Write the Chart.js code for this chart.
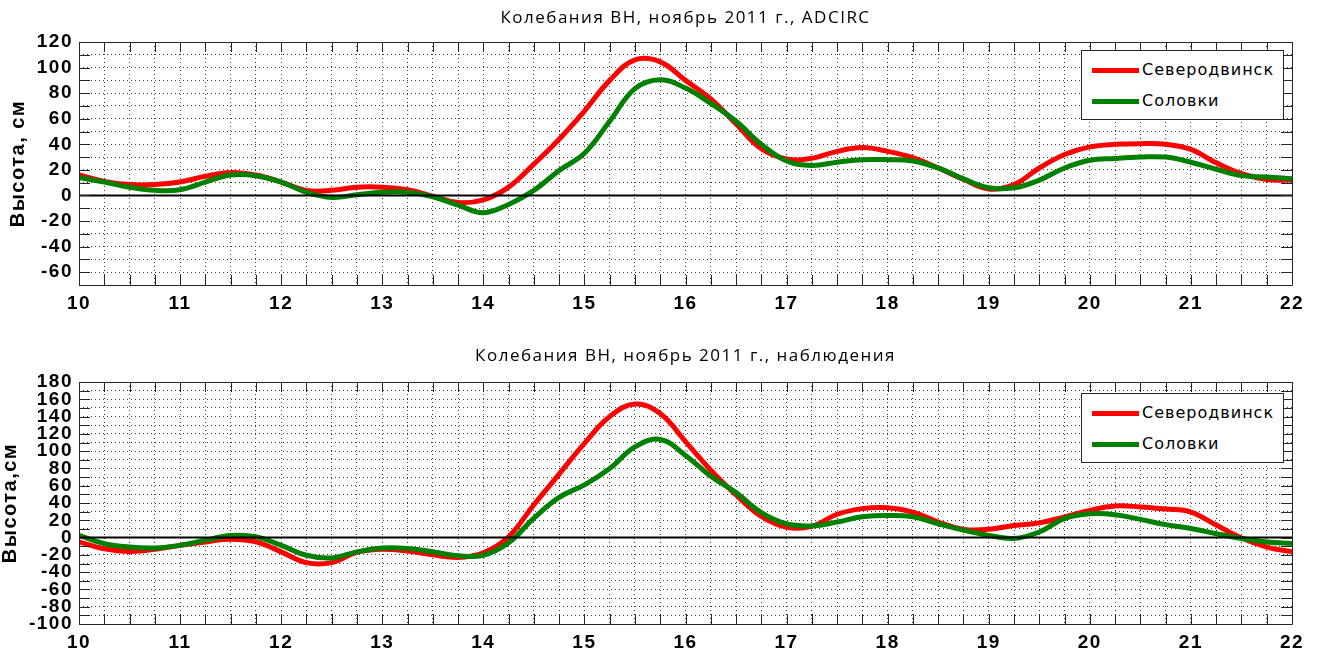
<!DOCTYPE html>
<html>
<head>
<meta charset="utf-8">
<script src="https://cdn.jsdelivr.net/npm/chart.js@4.4.1/dist/chart.umd.min.js"></script>
<style>
  html, body { margin: 0; padding: 0; background: #fff; width: 1322px; height: 657px; overflow: hidden; }
  .wrap { position: absolute; left: 0; width: 1322px; }
  #w1 { top: 0; height: 330px; }
  #w2 { top: 330px; height: 327px; }
  .legend { position: absolute; box-sizing: border-box; width: 203px; height: 70px; background: #fff; border: 1px solid #262626; }
  .legend .sw { position: absolute; left: 10px; width: 47px; height: 5px; }
  .legend .tx { position: absolute; left: 60px; font-family: "DejaVu Sans", sans-serif; font-size: 16px; letter-spacing: 1px; color: #000; line-height: 20px; white-space: nowrap; }
</style>
</head>
<body>
<div class="wrap" id="w1"><canvas id="c1" width="1322" height="330"></canvas></div>
<div class="wrap" id="w2"><canvas id="c2" width="1322" height="327"></canvas></div>
<script>
// ---- data ----
const days = [10, 10.25, 10.5, 10.75, 11, 11.25, 11.5, 11.75, 12, 12.25, 12.5, 12.75, 13, 13.25, 13.5, 13.75,
  14, 14.25, 14.5, 14.75, 15, 15.25, 15.5, 15.75, 16, 16.25, 16.5, 16.75, 17, 17.25, 17.5, 17.75,
  18, 18.25, 18.5, 18.75, 19, 19.25, 19.5, 19.75, 20, 20.25, 20.5, 20.75, 21, 21.25, 21.5, 21.75, 22];

// ADCIRC model
const sevModel = [16, 11, 8.5, 8.5, 10.5, 15, 18, 16, 10.5, 4, 4, 6.5, 6.5, 4.5, -0.5, -5.5,
  -3.5, 6.5, 24.5, 44, 66, 90, 106, 104.5, 90, 75.5, 56, 36.5, 28.5, 29, 34.5, 37.5,
  34.5, 29.5, 21.5, 12.5, 5, 8.5, 21.5, 32, 38, 40, 40.5, 40, 36, 25.5, 17, 12.5, 12];
const solModel = [14, 10.5, 6.5, 4, 4.5, 10.5, 16, 15.5, 10.5, 2.5, -1.5, 0.5, 2.5, 2.5, -1, -7.5,
  -13.5, -7, 4, 19.5, 33, 58, 83.5, 90.5, 84, 72, 58, 40, 27, 23.5, 26, 28,
  28, 27, 21.5, 13, 6, 6, 12, 21.5, 27.5, 29, 30, 30, 26, 20.5, 15.5, 14.5, 13];

// observations
const sevObs = [-5, -13, -16, -13.5, -9, -5, -2, -5, -16.5, -29, -29, -17, -13.5, -15.5, -20, -23,
  -17.5, 1, 38, 73.5, 109, 140, 154.5, 143.5, 111, 78, 49.5, 24.5, 12, 13, 27, 33.5,
  34.5, 29.5, 18, 9.5, 9.5, 14, 17, 24, 31.5, 36.5, 35.5, 33, 29.5, 14.5, -0.5, -11, -16.5];
const solObs = [2.5, -7, -11, -12, -9, -3, 2.5, 1, -9, -20.5, -23.5, -16.5, -12, -12.5, -16.5, -21,
  -20.5, -6, 22.5, 46.5, 61, 80, 105, 113.5, 95, 71, 52, 29, 16, 13.5, 18, 24,
  25.5, 24, 16, 8.5, 2.5, -1, 6.5, 22, 27.5, 26.5, 21, 15, 10.5, 4.5, -1, -5, -7];

const zeroDays = [10, 22];
const zeroLine = [0, 0];

const seriesNames = ['Северодвинск', 'Соловки'];
const titles = ['Колебания ВН, ноябрь 2011 г., ADCIRC', 'Колебания ВН, ноябрь 2011 г., наблюдения'];
const yTitles = ['Высота, см', 'Высота,см'];
const yRanges = [[-70, 120], [-100, 180]];
const xRange = [10, 22];

// ---- helpers ----
const pts = (xs, ys) => xs.map((x, i) => ({ x: x, y: ys[i] }));

const spacingPlugin = {
  id: 'spacing',
  beforeDraw(chart) { chart.ctx.letterSpacing = '1.5px'; }
};

const framePlugin = {
  id: 'frame',
  afterDraw(chart) {
    const { ctx, chartArea: { left, right, top, bottom } } = chart;
    const xs = chart.scales.x, ys = chart.scales.y;
    ctx.save();
    ctx.strokeStyle = '#262626';
    ctx.lineWidth = 1;
    ctx.beginPath();
    ctx.rect(Math.round(left) + 0.5, Math.round(top) + 0.5, Math.round(right - left), Math.round(bottom - top));
    xs.ticks.forEach(t => {
      const p = Math.round(xs.getPixelForValue(t.value)) + 0.5;
      ctx.moveTo(p, top); ctx.lineTo(p, top + 10);
      ctx.moveTo(p, bottom); ctx.lineTo(p, bottom - 10);
    });
    ys.ticks.forEach(t => {
      const p = Math.round(ys.getPixelForValue(t.value)) + 0.5;
      ctx.moveTo(left, p); ctx.lineTo(left + 11, p);
      ctx.moveTo(right, p); ctx.lineTo(right - 11, p);
    });
    ctx.stroke();
    ctx.restore();
  }
};

function buildLegend(chart, wrap, offTop) {
  const ca = chart.chartArea;
  const box = document.createElement('div');
  box.className = 'legend';
  box.style.left = (Math.round(ca.right) - 211) + 'px';
  box.style.top = (Math.round(ca.top) + offTop) + 'px';
  chart.data.datasets.filter(d => d.label).forEach((d, i) => {
    const sw = document.createElement('div');
    sw.className = 'sw';
    sw.style.background = d.borderColor;
    sw.style.top = (17 + i * 31) + 'px';
    const tx = document.createElement('div');
    tx.className = 'tx';
    tx.style.top = (9 + i * 31) + 'px';
    tx.textContent = d.label;
    box.appendChild(sw); box.appendChild(tx);
  });
  wrap.appendChild(box);
}

function makeChart(canvasId, wrapId, idx, sev, sol, opts) {
  const [ymin, ymax] = yRanges[idx];
  const chart = new Chart(document.getElementById(canvasId), {
    type: 'line',
    data: {
      datasets: [
        { label: seriesNames[0], data: pts(days, sev), borderColor: '#ff0000', borderWidth: 5, pointRadius: 0, tension: 0.4, order: 2 },
        { label: seriesNames[1], data: pts(days, sol), borderColor: '#008000', borderWidth: 5, pointRadius: 0, tension: 0.4, order: 1 },
        { label: '', data: pts(zeroDays, zeroLine), borderColor: '#000', borderWidth: 2, pointRadius: 0, tension: 0, order: 0 }
      ]
    },
    options: {
      responsive: false,
      animation: false,
      events: [],
      layout: { padding: { left: 0, right: 30, top: 0, bottom: 0 } },
      plugins: {
        legend: { display: false },
        tooltip: { enabled: false },
        title: {
          display: true, fullSize: false, text: titles[idx], color: '#000',
          font: { family: 'Open Sans', size: 17, weight: 'normal', lineHeight: 1.2 },
          padding: opts.titlePad
        }
      },
      scales: {
        x: {
          type: 'linear', min: xRange[0], max: xRange[1],
          afterFit: s => { s.height = opts.xHeight; },
          grid: { color: '#3a3a3a', lineWidth: 1, drawTicks: false },
          border: { display: false, dash: [1, 3] },
          ticks: {
            stepSize: 0.25, autoSkip: false, maxRotation: 0, minRotation: 0, padding: 7, color: '#000',
            font: { family: 'Liberation Sans', size: 19, weight: 'bold' },
            callback: v => Number.isInteger(v) ? String(v) : ''
          }
        },
        y: {
          min: ymin, max: ymax,
          afterFit: s => { s.width = 79; },
          grid: { color: '#3a3a3a', lineWidth: 1, drawTicks: false },
          border: { display: false, dash: [1, 3] },
          title: {
            display: true, text: yTitles[idx], color: '#000',
            font: { family: 'Liberation Sans', size: 20, weight: 'bold', lineHeight: 1.0 },
            padding: { top: opts.yTitlePad, bottom: 0 }
          },
          ticks: {
            stepSize: 10, autoSkip: false, padding: 6, color: '#000',
            font: { family: 'Liberation Sans', size: 19, weight: 'bold', lineHeight: 1.0 },
            callback: v => (v % 20 === 0) ? String(v) : ''
          }
        }
      }
    },
    plugins: [spacingPlugin, framePlugin]
  });
  buildLegend(chart, document.getElementById(wrapId), opts.legTop);
  return chart;
}

makeChart('c1', 'w1', 0, sevModel, solModel, { titlePad: { top: 8, bottom: 13.6 }, xHeight: 45, yTitlePad: 8, legTop: 8 });
makeChart('c2', 'w2', 1, sevObs, solObs, { titlePad: { top: 16, bottom: 15.6 }, xHeight: 33, yTitlePad: 0, legTop: 11 });
</script>
</body>
</html>
